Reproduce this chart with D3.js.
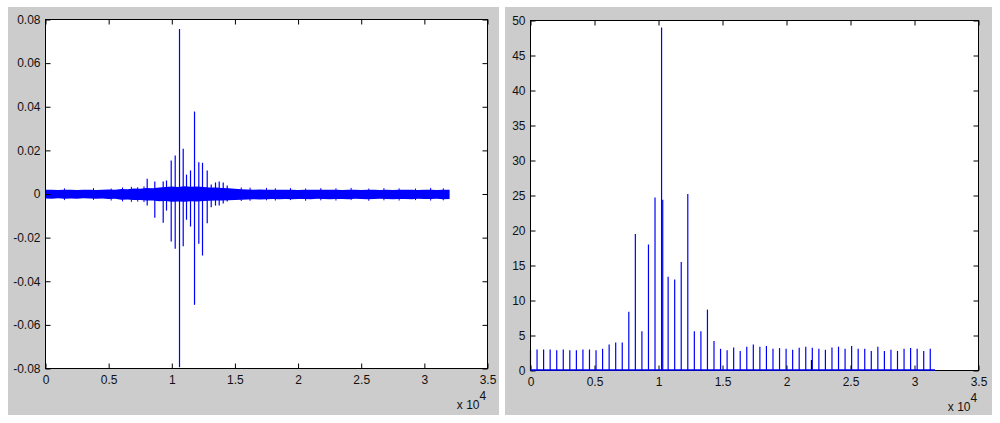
<!DOCTYPE html>
<html>
<head>
<meta charset="utf-8">
<script src="https://cdn.jsdelivr.net/npm/d3@7"></script>
<style>
  html, body { margin: 0; padding: 0; background: #ffffff; }
  svg { display: block; }
  text { font-family: "Liberation Sans", Arial, sans-serif; font-size: 12px; fill: #111; }
</style>
</head>
<body>
<svg id="chart" width="1000" height="423"></svg>
<script>
// ---------------- DATA ----------------
// Left panel: time signal. Noise band envelope (values in units of 1e-3), sampled every 500 samples
const envX = d3.range(0, 32001, 500);
const envHi = [1.9,2.0,1.8,2.0,1.9,1.8,2.0,1.9,1.8,2.0,2.1,1.9,2.3,2.2,2.5,2.4,
               2.8,2.6,3.0,3.2,3.4,3.2,3.5,3.3,3.4,3.2,3.0,3.0,2.8,2.6,2.4,2.2,
               2.1,2.0,2.1,2.0,1.9,2.0,1.9,2.0,1.8,1.9,2.0,1.9,1.9,2.0,1.9,1.8,
               2.0,1.9,1.8,2.0,1.9,1.8,1.9,1.8,1.9,2.0,1.9,1.8,1.9,1.9,1.8,2.0,1.9];
const envLo = [-2.1,-2.2,-2.0,-2.2,-2.1,-2.2,-2.0,-2.1,-2.2,-2.1,-2.3,-2.2,-2.6,-2.5,-2.8,-2.7,
               -3.0,-3.0,-3.3,-3.2,-3.5,-3.4,-3.5,-3.3,-3.4,-3.2,-3.1,-3.0,-3.0,-2.9,-2.7,-2.6,
               -2.5,-2.4,-2.5,-2.4,-2.3,-2.4,-2.3,-2.4,-2.3,-2.3,-2.4,-2.2,-2.3,-2.4,-2.3,-2.3,
               -2.4,-2.2,-2.3,-2.4,-2.3,-2.2,-2.3,-2.4,-2.3,-2.3,-2.4,-2.2,-2.3,-2.3,-2.2,-2.4,-2.3];
// Small noise peaks poking out of the band
const noiseX   = [1500, 3800, 5200, 6100, 6800, 7300, 7800, 15500, 16200, 17500, 18200, 19400, 20600, 21800, 23000, 24200, 25600, 26800, 28000, 29300, 30500, 31500];
const noiseTop = [0.0026, 0.0027, 0.0025, 0.0030, 0.0033, 0.0031, 0.0035, 0.0030, 0.0029, 0.0028, 0.0026, 0.0027, 0.0025, 0.0027, 0.0026, 0.0028, 0.0025, 0.0027, 0.0026, 0.0025, 0.0028, 0.0026];
const noiseBot = [-0.0028, -0.0027, -0.0030, -0.0034, -0.0036, -0.0035, -0.0037, -0.0032, -0.0031, -0.0029, -0.0030, -0.0028, -0.0031, -0.0029, -0.0030, -0.0028, -0.0031, -0.0029, -0.0030, -0.0028, -0.0030, -0.0029];
// Impulses (sample index, positive peak, negative peak)
const spikeX   = [8053, 8655, 9320, 9582, 9954, 10271, 10612, 10905, 11166, 11483, 11800, 12140, 12433, 12805, 13122, 13462, 13755, 14072, 14389];
const spikeTop = [0.0070, 0.0057, 0.0057, 0.0062, 0.0154, 0.0177, 0.0757, 0.0207, 0.0089, 0.0108, 0.0378, 0.0146, 0.0143, 0.0108, 0.0044, 0.0053, 0.0057, 0.0053, 0.0039];
const spikeBot = [-0.0053, -0.0109, -0.0132, -0.0076, -0.0218, -0.0251, -0.0794, -0.0239, -0.0118, -0.0149, -0.0508, -0.0228, -0.0282, -0.0134, -0.0061, -0.0053, -0.0053, -0.0044, -0.0034];

const xTicks = [0, 5000, 10000, 15000, 20000, 25000, 30000, 35000];
const xTickLabels = ["0", "0.5", "1", "1.5", "2", "2.5", "3", "3.5"];
const yTicksLeft = [-0.08, -0.06, -0.04, -0.02, 0, 0.02, 0.04, 0.06, 0.08];
const yTickLabelsLeft = ["-0.08", "-0.06", "-0.04", "-0.02", "0", "0.02", "0.04", "0.06", "0.08"];

// Right panel: stem plot, stems every 512 samples
const stemX = d3.range(0, 62).map(i => i * 512);
const stemV = [2.9, 3.0, 3.0, 3.0, 2.9, 3.0, 2.9, 2.9, 3.0, 3.0,
               2.9, 3.1, 3.7, 4.0, 4.0, 8.4, 19.5, 5.6, 18.0, 24.7,
               49.0, 13.4, 13.0, 15.5, 25.2, 5.6, 5.6, 8.7, 4.2, 3.1,
               2.9, 3.3, 2.8, 3.4, 3.7, 3.4, 3.5, 3.1, 3.2, 3.1,
               2.96, 3.25, 3.4, 3.25, 3.1, 2.96, 3.3, 3.4, 3.1, 3.5,
               3.1, 3.1, 2.8, 3.4, 2.8, 2.96, 2.8, 3.1, 3.2, 3.1,
               2.8, 3.1];
const extraStemX = [10330];
const extraStemV = [24.4];
const darkStemX = [21950];
const darkStemV = [1.5];
const baselineEnd = 31600;
const yTicksRight = [0, 5, 10, 15, 20, 25, 30, 35, 40, 45, 50];
const yTickLabelsRight = yTicksRight.map(String);
const exponentLabel = "4";

// ---------------- DRAW ----------------
const svg = d3.select("#chart");
const BLUE = "#0000ff";

// panels
svg.append("rect").attr("x", 8).attr("y", 7).attr("width", 491).attr("height", 408).attr("fill", "#cccccc");
svg.append("rect").attr("x", 505).attr("y", 7).attr("width", 487).attr("height", 408).attr("fill", "#cccccc");

function frame(g, x, y, xt, xl, yt, yl) {
  const [x0, x1] = x.range(), [y1, y0] = y.range();
  g.append("rect").attr("x", x0).attr("y", y0).attr("width", x1 - x0).attr("height", y1 - y0).attr("fill", "#fff");
  return () => {
    const ax = g.append("g").attr("transform", `translate(0,${y1})`)
      .call(d3.axisBottom(x).tickValues(xt).tickFormat((d, i) => xl[i]).tickSizeInner(-5).tickSizeOuter(0).tickPadding(7));
    const axT = g.append("g").attr("transform", `translate(0,${y0})`)
      .call(d3.axisTop(x).tickValues(xt).tickFormat("").tickSizeInner(-5).tickSizeOuter(0));
    const ay = g.append("g").attr("transform", `translate(${x0},0)`)
      .call(d3.axisLeft(y).tickValues(yt).tickFormat((d, i) => yl[i]).tickSizeInner(-5).tickSizeOuter(0).tickPadding(5));
    const ayR = g.append("g").attr("transform", `translate(${x1},0)`)
      .call(d3.axisRight(y).tickValues(yt).tickFormat("").tickSizeInner(-5).tickSizeOuter(0));
    [ax, axT, ay, ayR].forEach(a => {
      a.select(".domain").remove();
      a.selectAll("line").attr("stroke", "#000");
      a.selectAll("text").attr("font-size", 12).attr("fill", "#111").attr("font-family", "Liberation Sans, Arial, sans-serif");
    });
    g.append("rect").attr("x", x0).attr("y", y0).attr("width", x1 - x0).attr("height", y1 - y0)
      .attr("fill", "none").attr("stroke", "#000").attr("stroke-width", 1);
    // exponent label
    g.append("text").attr("x", x1 - 8).attr("y", y1 + 40).attr("text-anchor", "end")
      .attr("font-size", 12).text("x 10");
    g.append("text").attr("x", x1 - 8).attr("y", y1 + 31).attr("font-size", 9).text(exponentLabel);
  };
}

// ----- left -----
const gL = svg.append("g");
const xL = d3.scaleLinear().domain([0, 35000]).range([45.5, 487.5]);
const yL = d3.scaleLinear().domain([-0.08, 0.08]).range([368.5, 19.5]);
const finishL = frame(gL, xL, yL, xTicks, xTickLabels, yTicksLeft, yTickLabelsLeft);

const envData = envX.map((x, i) => ({ x, hi: envHi[i] / 1000, lo: envLo[i] / 1000 }));
gL.append("path").datum(envData)
  .attr("d", d3.area().x(d => xL(d.x)).y0(d => yL(d.lo)).y1(d => yL(d.hi)))
  .attr("fill", BLUE).attr("stroke", "none");
gL.selectAll("line.noise").data(noiseX).join("line").attr("class", "noise")
  .attr("x1", d => xL(d)).attr("x2", d => xL(d))
  .attr("y1", (d, i) => yL(noiseBot[i])).attr("y2", (d, i) => yL(noiseTop[i]))
  .attr("stroke", BLUE).attr("stroke-width", 1);
gL.selectAll("line.spike").data(spikeX).join("line").attr("class", "spike")
  .attr("x1", d => xL(d)).attr("x2", d => xL(d))
  .attr("y1", (d, i) => yL(spikeBot[i])).attr("y2", (d, i) => yL(spikeTop[i]))
  .attr("stroke", BLUE).attr("stroke-width", 1.2);
finishL();

// ----- right -----
const gR = svg.append("g");
const xR = d3.scaleLinear().domain([0, 35000]).range([530.5, 978.5]);
const yR = d3.scaleLinear().domain([0, 50]).range([370.5, 20.5]);
const finishR = frame(gR, xR, yR, xTicks, xTickLabels, yTicksRight, yTickLabelsRight);

const allStemX = stemX.concat(extraStemX), allStemV = stemV.concat(extraStemV);
gR.selectAll("line.stem").data(allStemX).join("line").attr("class", "stem")
  .attr("x1", d => xR(d)).attr("x2", d => xR(d))
  .attr("y1", yR(0)).attr("y2", (d, i) => yR(allStemV[i]))
  .attr("stroke", BLUE).attr("stroke-width", 1.2);
gR.selectAll("line.dark").data(darkStemX).join("line").attr("class", "dark")
  .attr("x1", d => xR(d)).attr("x2", d => xR(d))
  .attr("y1", yR(0)).attr("y2", (d, i) => yR(darkStemV[i]))
  .attr("stroke", "#000").attr("stroke-width", 1.2);
finishR();
gR.append("line").attr("x1", xR(0)).attr("x2", xR(baselineEnd))
  .attr("y1", yR(0) - 0.5).attr("y2", yR(0) - 0.5).attr("stroke", BLUE).attr("stroke-width", 1.5);
</script>
</body>
</html>
